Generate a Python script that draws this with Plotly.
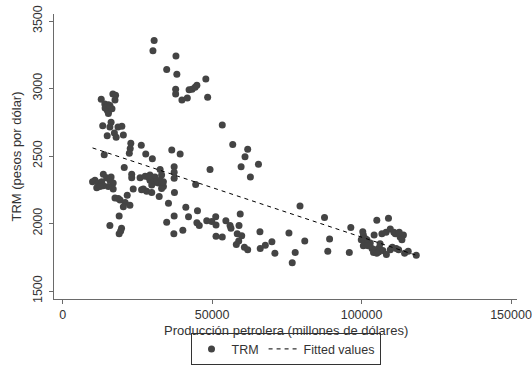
import plotly.graph_objects as go

# Producción petrolera (millones de dólares) y TRM (pesos por dólar)
produccion = [
    30600, 30200, 37900, 34800, 38200, 47900, 37800, 37800, 42300, 43300,
    44300, 44900, 39900, 41700, 48500, 53400, 56900, 61900, 61000, 65500,
    59700, 62800, 36500, 39300, 49300, 37300, 37300, 37300, 44500, 37400,
    35400, 41200, 45100, 37300, 42100, 34800, 44900, 45700, 48200, 49900,
    51200, 51300, 54600, 56000, 56300, 59400, 59000, 37200, 40200, 51300,
    53400, 58400, 59900, 58900, 58100, 60800, 61900, 66000, 66100, 67800,
    70000, 71000, 75700, 76800, 77800, 79400, 81000, 87600, 88700, 89300,
    95900, 96400, 105100, 109000, 100400, 100600, 101200, 104200, 106800, 108200,
    109600, 110800, 111300, 112900, 114000, 113500, 101800, 102900, 100600, 103500,
    104600, 105900, 105700, 107100, 108300, 109600, 111600, 112400, 114400, 115600,
    118300, 104000, 105100, 101200, 102200, 106200, 110300, 99900, 112600,
    12900, 16800, 17700, 17500, 14100, 14700, 15300, 15800, 14200, 14900,
    15700, 15300, 15300, 16500, 13400, 16200, 15800, 18500, 19800, 14900,
    17300, 17900, 20300, 22800, 22600, 22300, 26300, 27800, 30000, 13900,
    20600, 32600, 23100, 23100, 13600, 14700, 16200, 10800, 10000, 11900,
    13100, 11400, 15800, 16900, 16900, 15300, 13600, 12500, 23600, 21600,
    17500, 18600, 19200, 20900, 20300, 22500, 18900, 15800, 19700, 18900,
    19400, 25900, 27600, 29200, 30900, 33100, 32600, 32000, 30900, 29800,
    29200, 28700, 27000, 28100, 29800, 32300, 33700, 33100, 26400, 33700,
]
trm = [
    3355, 3280, 3240, 3140, 3105, 3070, 2995, 2960, 2990, 2995,
    3010, 3025, 2915, 2930, 2935, 2730, 2585, 2550, 2495, 2440,
    2420, 2345, 2545, 2515, 2400, 2420, 2380, 2335, 2290, 2230,
    2150, 2120, 2095, 2055, 2050, 2010, 2005, 1985, 2020, 2015,
    2050, 1990, 2020, 1985, 1965, 2070, 1985, 1925, 1950, 1905,
    1900, 1925, 1910, 1870, 1845, 1825, 1805, 1940, 1815, 1840,
    1865, 1780, 1930, 1710, 1785, 2130, 1870, 2045, 1795, 1885,
    1785, 1970, 2025, 2040, 1940, 1915, 1890, 1915, 1925, 1935,
    1960, 1935, 1925, 1900, 1915, 1880, 1880, 1855, 1835, 1815,
    1805, 1820, 1790, 1800, 1770, 1805, 1815, 1805, 1780, 1795,
    1765, 1785, 1780, 1865, 1835, 1850, 1825, 1880, 1935,
    2920, 2960, 2950, 2915, 2885, 2865, 2880, 2875, 2855, 2840,
    2855, 2830, 2815, 2850, 2725, 2750, 2715, 2715, 2720, 2650,
    2670, 2640, 2655, 2595, 2555, 2520, 2580, 2515, 2480, 2510,
    2415, 2400, 2365, 2340, 2365, 2340, 2345, 2320, 2310, 2300,
    2310, 2265, 2320, 2300, 2255, 2275, 2280, 2275, 2255, 2210,
    2190, 2185, 2175, 2155, 2125, 2135, 2055, 1985, 1965, 1925,
    1945, 2340, 2350, 2360, 2345, 2360, 2320, 2300, 2305, 2285,
    2320, 2345, 2255, 2240, 2230, 2200, 2275, 2260, 2250, 2310,
]

# Recta de regresión (valores ajustados en los extremos)
ajuste_x = [10000, 118300]
ajuste_y = [2560, 1765]

x_ticks = [0, 50000, 100000, 150000]
y_ticks = [1500, 2000, 2500, 3000, 3500]

FONT = "Liberation Sans, Arial, sans-serif"
FS = 13
TXT = "#333333"
AXIS = "#6a6a6a"
TICKFONT = dict(family=FONT, size=12.5, color=TXT)

fig = go.Figure()
fig.add_trace(go.Scatter(
    x=produccion, y=trm, mode="markers", name="TRM",
    marker=dict(color="#444444", size=7, line=dict(width=0)),
))
fig.add_trace(go.Scatter(
    x=ajuste_x, y=ajuste_y, mode="lines", name="Fitted values",
    line=dict(color="#000000", width=1, dash="4px,4px"),
))

fig.update_layout(
    width=532, height=366,
    margin=dict(l=54, r=15, t=14, b=67),
    paper_bgcolor="white", plot_bgcolor="white",
    font=dict(family=FONT, size=FS, color=TXT),
    showlegend=True,
    legend=dict(
        orientation="h", x=0.5, xanchor="center",
        yref="container", y=0.002, yanchor="bottom",
        bordercolor="#333333", borderwidth=1, bgcolor="rgba(0,0,0,0)",
        font=dict(family=FONT, size=12.5, color=TXT),
        itemwidth=30, tracegroupgap=0,
    ),
    annotations=[dict(
        text="Producción petrolera (millones de dólares)",
        xref="paper", yref="paper", x=0.5, y=-0.111,
        xanchor="center", yanchor="middle", showarrow=False,
        font=dict(family=FONT, size=FS, color=TXT),
    )],
)
fig.update_xaxes(
    range=[-2900, 152000], tickvals=x_ticks, ticktext=[str(v) for v in x_ticks],
    tickfont=TICKFONT, ticklabeloverflow="allow", ticklabelstandoff=0,
    showline=True, linecolor=AXIS, linewidth=1, mirror=False,
    ticks="outside", ticklen=4, tickcolor=AXIS, tickwidth=1,
    showgrid=False, zeroline=False, automargin=False,
)
fig.update_yaxes(
    range=[1441, 3552], tickvals=y_ticks, ticktext=[str(v) for v in y_ticks],
    tickfont=TICKFONT, tickangle=-90, ticklabeloverflow="allow", ticklabelstandoff=2,
    showline=True, linecolor=AXIS, linewidth=1, mirror=False,
    ticks="outside", ticklen=4, tickcolor=AXIS, tickwidth=1,
    showgrid=False, zeroline=False, automargin=False,
    title=dict(text="TRM (pesos por dólar)", standoff=6,
               font=dict(family=FONT, size=FS, color=TXT)),
)

fig.write_html("out.html")
